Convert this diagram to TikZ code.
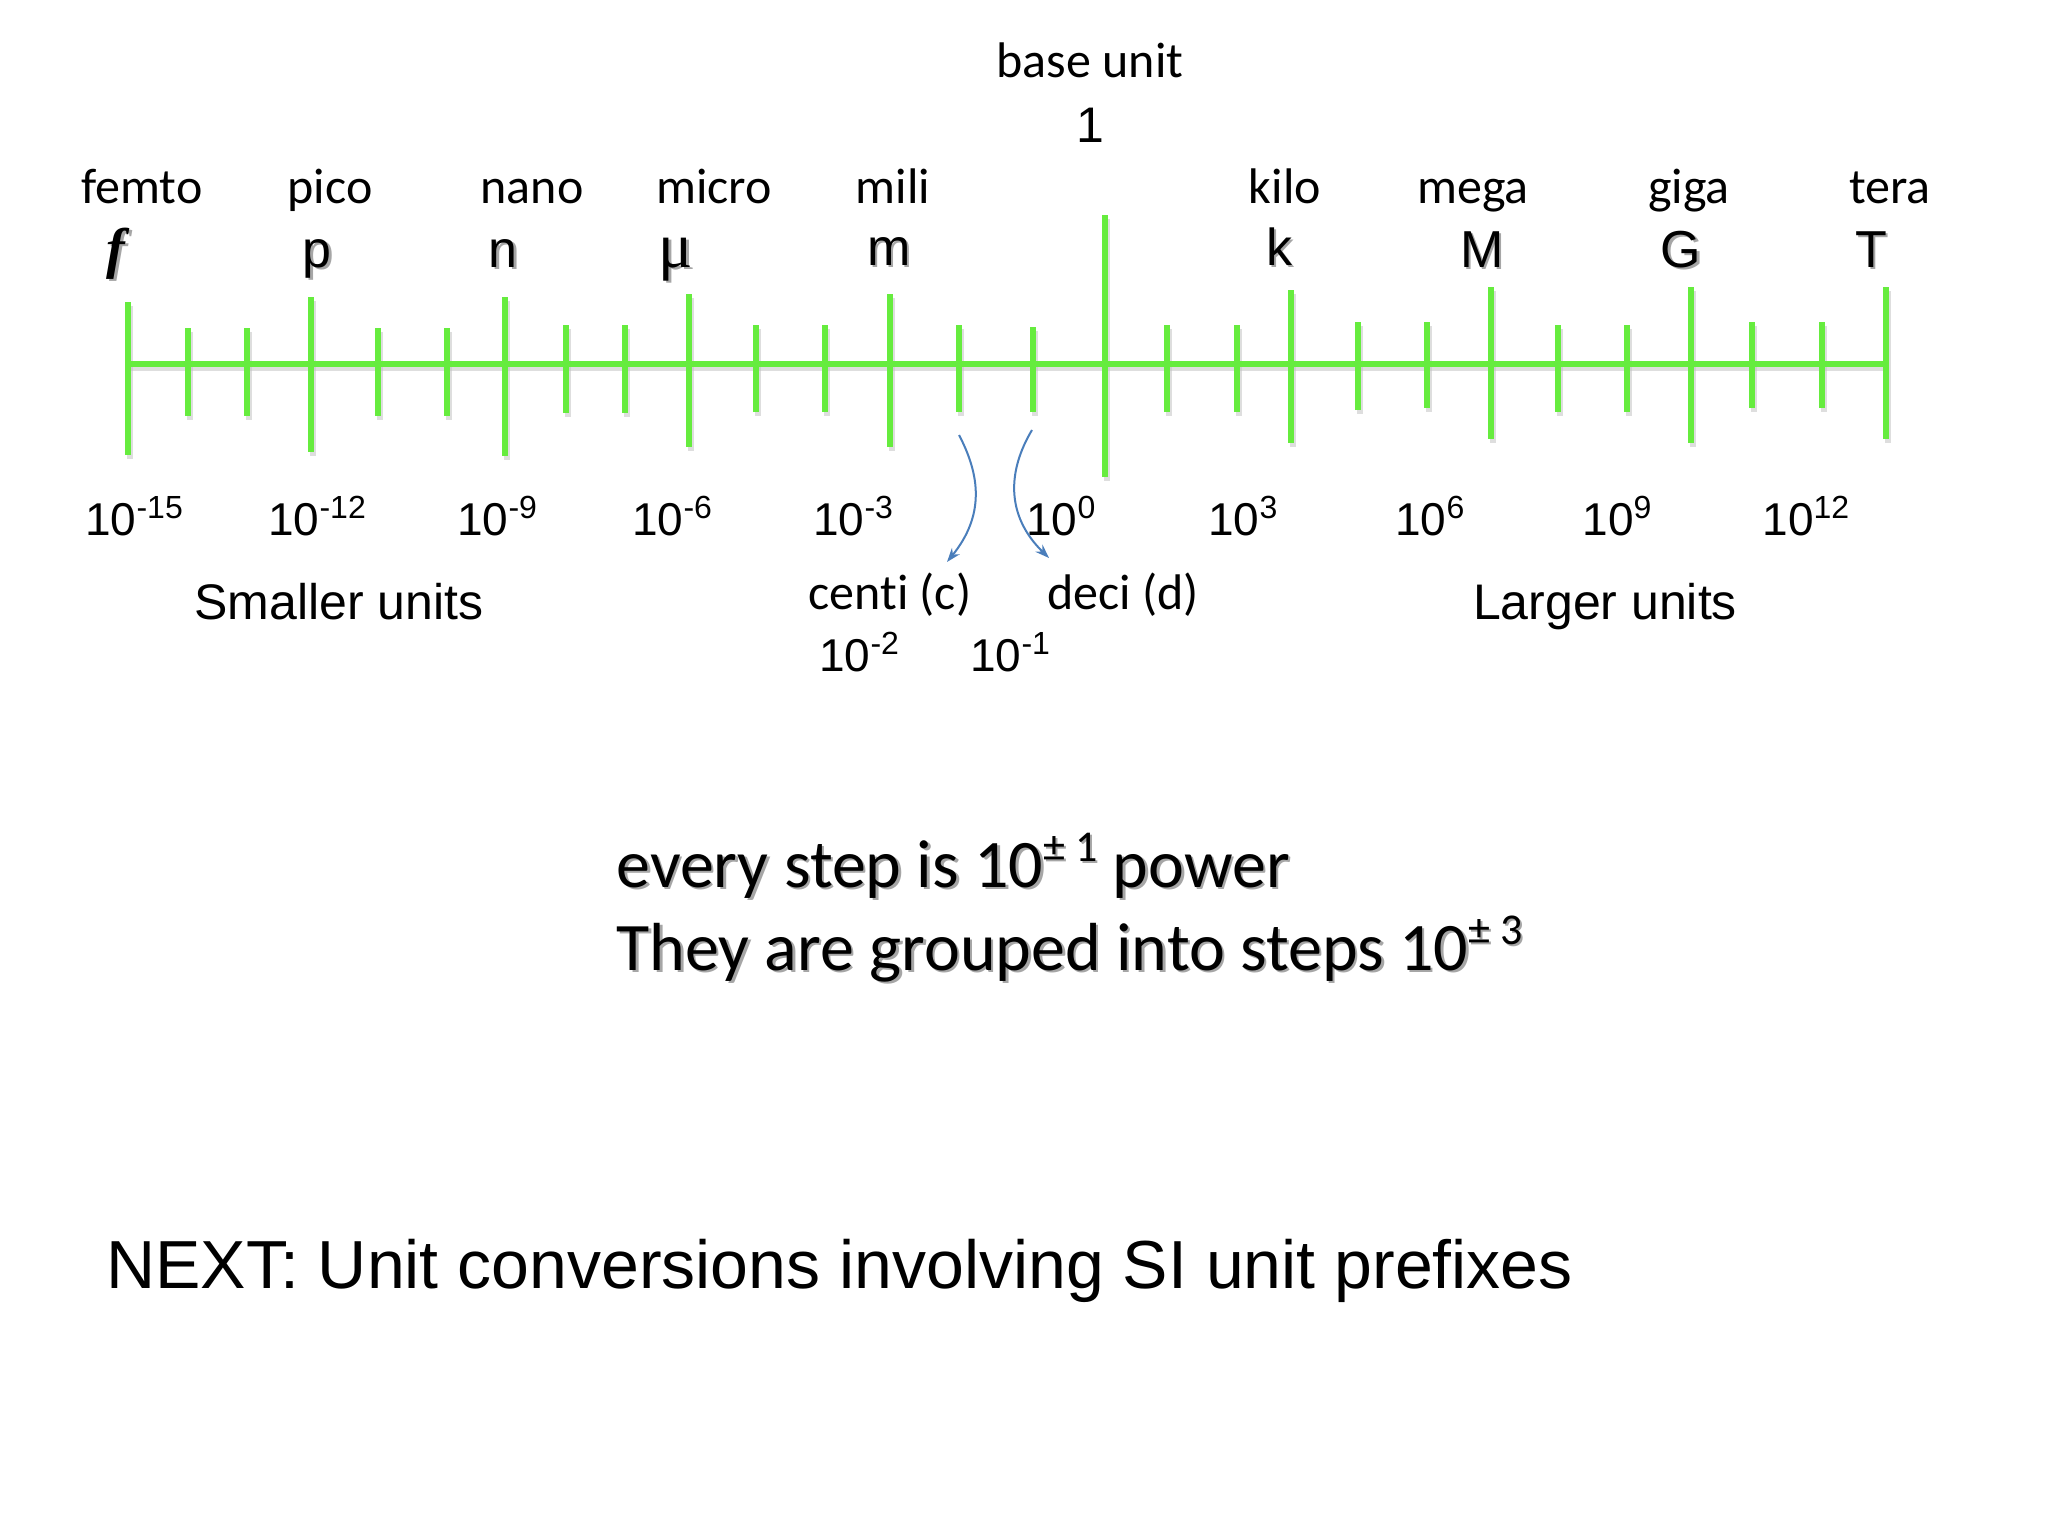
\documentclass[tikz,border=0pt]{standalone}
\usepackage{fontspec}
\setmainfont{Carlito}[Ligatures=NoCommon]
\newfontfamily\arial{Liberation Sans}
\newfontfamily\tnr{Liberation Serif}
\usetikzlibrary{arrows.meta}
\definecolor{axisgreen}{RGB}{102,236,62}
\definecolor{arrowblue}{RGB}{74,126,187}
\newcommand\pw[1]{10\raisebox{8.5pt}{\fontsize{16}{16}\selectfont #1}}
\newcommand\bigpw[1]{10\raisebox{13pt}{\fontsize{22}{22}\selectfont #1}}
\newcommand\shad[1]{\leavevmode\rlap{\kern1.3pt\raisebox{-1.3pt}{\textcolor{black!35}{#1}}}#1}
\begin{document}
\begin{tikzpicture}[x=0.5pt,y=-0.5pt,
  pname/.style={inner sep=0pt, anchor=base, font=\fontsize{25}{30}\selectfont},
  psym/.style={inner sep=0pt, anchor=base, font=\arial\fontsize{26}{30}\selectfont},
  expo/.style={inner sep=0pt, anchor=base west, font=\arial\fontsize{23}{28}\selectfont},
  side/.style={inner sep=0pt, anchor=base, font=\arial\fontsize{25}{30}\selectfont},
  sub/.style={inner sep=0pt, anchor=base west, font=\fontsize{25}{30}\selectfont},
  big/.style={inner sep=0pt, anchor=base west, font=\fontsize{34}{40}\selectfont},
  green line/.style={draw=axisgreen, line width=2.8pt},
  shadow line/.style={draw=black!25, line width=2.8pt, opacity=0.5},
  curved/.style={draw=arrowblue, line width=1pt, -{Stealth[length=7pt,width=5pt]}}]
\useasboundingbox (0,0) rectangle (2048,1536);
\fill[white] (0,0) rectangle (2048,1536);

% shadows
\draw[shadow line] (130,368) -- (1888,368);
\foreach \x/\t/\b in {128/302/455, 311/297/452, 505/297/456, 689/294/447, 890/294/447,
  1105/215/477, 1291/290/443, 1491/287/439, 1691/287/443, 1886/287/439,
  188/328/416, 247/328/416, 378/328/416, 447/328/416, 566/325/413, 625/325/413,
  756/325/412, 825/325/412, 959/325/412, 1033/327/412, 1167/325/412, 1237/325/412,
  1358/322/410, 1427/322/408, 1558/325/412, 1627/325/412, 1752/322/408, 1822/322/408}
  \draw[shadow line] (\x+2,\t+4) -- (\x+2,\b+4);

% axis and ticks
\draw[green line] (128,364) -- (1886,364);
\foreach \x/\t/\b in {128/302/455, 311/297/452, 505/297/456, 689/294/447, 890/294/447,
  1105/215/477, 1291/290/443, 1491/287/439, 1691/287/443, 1886/287/439,
  188/328/416, 247/328/416, 378/328/416, 447/328/416, 566/325/413, 625/325/413,
  756/325/412, 825/325/412, 959/325/412, 1033/327/412, 1167/325/412, 1237/325/412,
  1358/322/410, 1427/322/408, 1558/325/412, 1627/325/412, 1752/322/408, 1822/322/408}
  \draw[green line] (\x,\t) -- (\x,\b);

% top labels
\node[pname] (base) at (1090,78) {base unit};
\node[psym, font=\arial\fontsize{25}{30}\selectfont] (one) at (1090,142) {1};
\node[pname] (femto) at (142,203) {femto};
\node[pname] (pico) at (330,203) {pico};
\node[pname] (nano) at (532,203) {nano};
\node[pname] (micro) at (714,203) {micro};
\node[pname] (mili) at (893,203) {mili};
\node[pname] (kilo) at (1285,203) {kilo};
\node[pname] (mega) at (1473,203) {mega};
\node[pname] (giga) at (1689,203) {giga};
\node[pname] (tera) at (1890,203) {tera};

\node[inner sep=0pt, anchor=base, font=\tnr\bfseries\itshape\fontsize{28}{30}\selectfont] (sf) at (116,267) {\shad{f}};
\node[psym] (sp) at (317,267) {\shad{p}};
\node[psym] (sn) at (503,267) {\shad{n}};
\node[inner sep=0pt, anchor=base, font=\tnr\fontsize{32}{34}\selectfont] (smu) at (676,267) {\shad{μ}};
\node[psym] (sm) at (889,265) {\shad{m}};
\node[psym] (sk) at (1279,265) {\shad{k}};
\node[psym] (sM) at (1482,267) {\shad{M}};
\node[psym] (sG) at (1681,267) {\shad{G}};
\node[psym] (sT) at (1871,267) {\shad{T}};

% exponents
\node[expo] (e15) at (85,535) {\pw{-15}};
\node[expo] (e12) at (268,535) {\pw{-12}};
\node[expo] (e9) at (457,535) {\pw{-9}};
\node[expo] (e6) at (632,535) {\pw{-6}};
\node[expo] (e3) at (813,535) {\pw{-3}};
\node[expo] (e0) at (1026,535) {\pw{0}};
\node[expo] (p3) at (1208,535) {\pw{3}};
\node[expo] (p6) at (1395,535) {\pw{6}};
\node[expo] (p9) at (1582,535) {\pw{9}};
\node[expo] (p12) at (1762,535) {\pw{12}};

\node[side] (smaller) at (339,619) {Smaller units};
\node[side] (larger) at (1605,619) {Larger units};

\node[sub] (centi) at (808,609) {centi (c)};
\node[sub] (deci) at (1047,609) {deci (d)};
\node[expo] (em2) at (819,671) {\pw{-2}};
\node[expo] (em1) at (970,671) {\pw{-1}};

% arrows
\coordinate (cstart) at (959,435);
\coordinate (cend) at (947,562);
\coordinate (dstart) at (1032,430);
\coordinate (dend) at (1049,558);
\draw[curved] (cstart) .. controls (980,475) and (985,515) .. (cend);
\draw[curved] (dstart) .. controls (1008,470) and (1005,515) .. (dend);

% notes
\node[big] (line1) at (616,887) {\shad{every step is \bigpw{± 1} power}};
\node[big] (line2) at (616,970) {\shad{They are grouped into steps \bigpw{± 3}}};
\node[inner sep=0pt, anchor=base west, font=\arial\fontsize{34}{40}\selectfont] (next) at (106,1288) {NEXT: Unit conversions involving SI unit prefixes};
\end{tikzpicture}
\end{document}
